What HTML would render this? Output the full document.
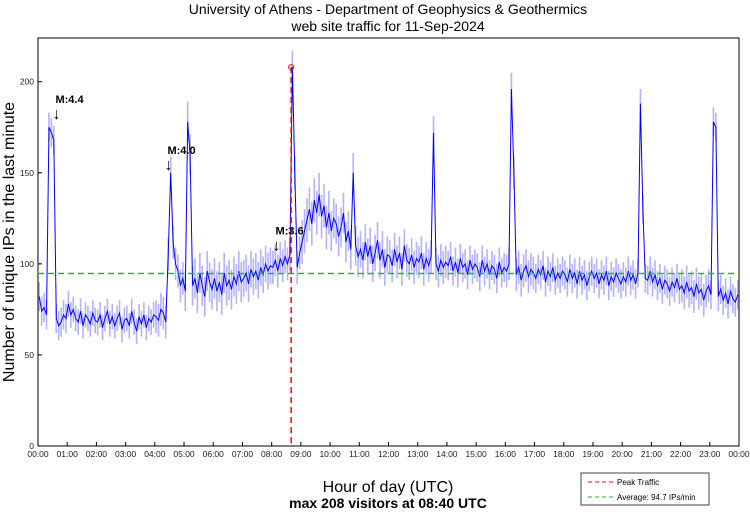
<!DOCTYPE html>
<html><head><meta charset="utf-8"><style>
body{margin:0;background:#fff;font-family:"Liberation Sans",sans-serif}
svg text{font-family:"Liberation Sans",sans-serif}
</style></head><body>
<svg id="chart" width="750" height="511" xmlns="http://www.w3.org/2000/svg">
<text x="388" y="14" font-size="14" text-anchor="middle">University of Athens - Department of Geophysics &amp; Geothermics</text>
<text x="388" y="31" font-size="14" text-anchor="middle">web site traffic for 11-Sep-2024</text>
<g id="grid"></g>
<g id="axes"></g>
<g id="series"></g>
<text transform="translate(14,242) rotate(-90)" font-size="16" text-anchor="middle">Number of unique IPs in the last minute</text>
<text x="388" y="492" font-size="16" text-anchor="middle">Hour of day (UTC)</text>
<text x="388" y="508" font-size="14" font-weight="bold" text-anchor="middle">max 208 visitors at 08:40 UTC</text>
<g>
<rect x="581" y="473" width="128" height="32" fill="#fff" stroke="#444"/>
<line x1="588" y1="482" x2="613" y2="482" stroke="#ff0000" stroke-dasharray="4,3"/>
<text x="617" y="485" font-size="8">Peak Traffic</text>
<line x1="588" y1="497" x2="613" y2="497" stroke="#22bb22" stroke-dasharray="4,3"/>
<text x="617" y="500" font-size="8">Average: 94.7 IPs/min</text>
</g>
</svg>
<script>
const yTicks=[0,50,100,150,200];
const hourLabels=["00:00","01:00","02:00","03:00","04:00","05:00","06:00","07:00","08:00","09:00","10:00","11:00","12:00","13:00","14:00","15:00","16:00","17:00","18:00","19:00","20:00","21:00","22:00","23:00","00:00"];
const visitors=[
82,74,76,72,175,172,168,70,66,68,72,70,
78,72,75,70,68,74,66,72,70,67,73,69,
68,72,65,70,74,67,71,66,70,73,64,69,
70,66,74,68,63,71,67,72,65,70,68,72,
71,69,75,73,68,105,150,112,100,96,88,92,
85,178,160,88,92,84,95,88,82,96,90,86,
92,85,90,83,95,88,91,86,93,89,96,90,
92,95,89,97,93,96,91,98,94,100,96,99,
98,102,96,103,99,104,100,105,208,150,98,106,
112,118,124,130,122,135,128,138,126,132,120,128,
118,125,122,115,120,128,112,118,108,150,110,104,
108,102,112,104,110,100,106,113,102,108,98,105,
104,99,108,101,106,97,110,102,100,105,98,103,
101,106,97,103,99,104,172,100,96,102,98,101,
99,104,96,101,95,103,98,100,94,102,97,100,
98,93,102,96,100,94,99,97,92,101,95,98,
96,100,196,150,94,98,91,96,99,93,97,95,
92,97,94,99,90,96,93,98,91,95,92,96,
94,90,97,92,95,89,96,91,94,88,93,96,
92,95,89,94,91,96,88,93,90,95,92,89,
93,90,96,91,94,89,95,188,130,92,91,96,
90,94,88,92,86,91,89,85,90,87,92,86,
88,84,90,85,87,82,89,84,86,80,85,88,
83,178,175,82,86,80,84,78,85,81,79,83];
const spreadByHour=[8,7,7,7,9,11,11,10,9,12,11,10,9,9,8,8,9,8,8,8,8,8,9,8];
const stepMinutes=5;
const average=94.7;
const peakValue=208, peakMinute=520;
const quakes=[{label:"M:4.4",minute:38,value:180},{label:"M:4.0",minute:268,value:152},{label:"M:3.6",minute:490,value:108}];
const L=38,R=739,T=38,B=446,YMAX=224;
const xs=m=>L+(R-L)*m/1440, ys=v=>B-(B-T)*v/YMAX;
const NS="http://www.w3.org/2000/svg";
function mk(tag,attrs,parent){const e=document.createElementNS(NS,tag);for(const k in attrs)e.setAttribute(k,attrs[k]);parent.appendChild(e);return e;}
const grid=document.getElementById('grid'),axes=document.getElementById('axes'),ser=document.getElementById('series');
mk('rect',{x:L,y:T,width:R-L,height:B-T,fill:'#fff',stroke:'#000'},axes);
hourLabels.forEach((h,i)=>{const x=xs(i*60);
 if(i>0&&i<24){const g=mk('line',{x1:x,y1:T,x2:x,y2:B,stroke:'#999','stroke-dasharray':'1,2'},grid);
 }
 mk('line',{x1:x,y1:B,x2:x,y2:B-4,stroke:'#000'},axes);
 const t=mk('text',{x:x,y:B+11,'font-size':8.5,'text-anchor':'middle',fill:'#222'},axes);t.textContent=h;
 });
yTicks.forEach(v=>{const y=ys(v);
 if(v>0){const g=mk('line',{x1:L,y1:y,x2:R,y2:y,stroke:'#999','stroke-dasharray':'1,2'},grid);
 }
 mk('line',{x1:L,y1:y,x2:L+4,y2:y,stroke:'#000'},axes);
 const t=mk('text',{x:L-4,y:y+3,'font-size':8.5,'text-anchor':'end',fill:'#222'},axes);t.textContent=v;
 });
visitors.forEach((v,i)=>{const m=i*stepMinutes+2.5;const s=spreadByHour[Math.floor(i*stepMinutes/60)];
 const x=xs(m);
 const b=mk('rect',{x:x-0.8,y:ys(v+s),width:1.6,height:ys(v-s)-ys(v+s),fill:'#7f7fff',opacity:0.6},ser);
 });
const pts=visitors.map((v,i)=>xs(i*stepMinutes+2.5).toFixed(1)+','+ys(v).toFixed(1)).join(' ');
const line=mk('polyline',{points:pts,fill:'none',stroke:'#0000ff','stroke-width':1},ser);

const av=mk('line',{x1:L,y1:ys(average),x2:R,y2:ys(average),stroke:'#22bb22','stroke-width':1.5,'stroke-dasharray':'6,4'},ser);

const pk=mk('line',{x1:xs(peakMinute),y1:ys(peakValue),x2:xs(peakMinute),y2:B,stroke:'#ff0000','stroke-width':1.5,'stroke-dasharray':'6,4'},ser);

const pc=mk('circle',{cx:xs(peakMinute),cy:ys(peakValue),r:2.5,fill:'none',stroke:'#ff0000'},ser);

quakes.forEach(q=>{const x=xs(q.minute),y=ys(q.value);
 const t=mk('text',{x:x-1,y:y-15,'font-size':11,'font-weight':'bold'},ser);t.textContent=q.label;
 
 const a=mk('text',{x:x,y:y+1,'font-size':16,'text-anchor':'middle'},ser);a.textContent='↓';
 });
</script>
</body></html>
